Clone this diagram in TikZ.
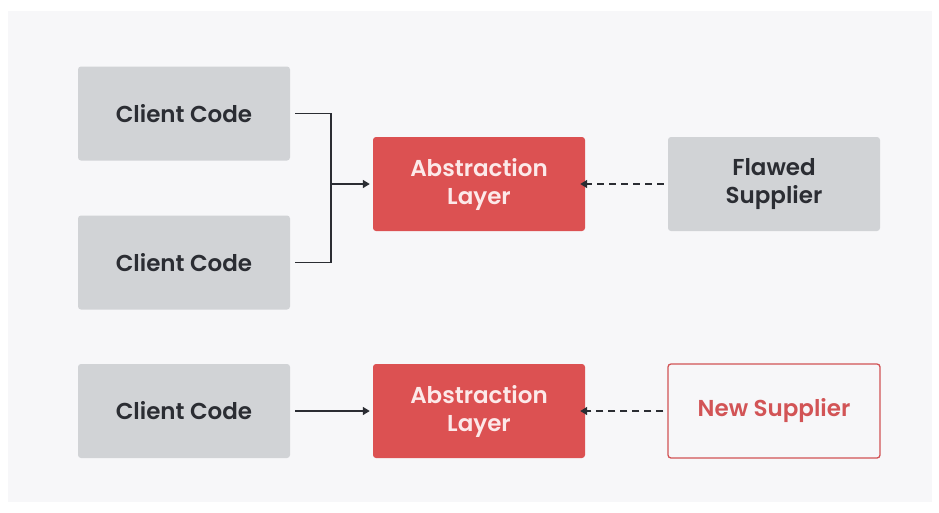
\documentclass[tikz,border=0pt]{standalone}
\usepackage{fontspec}
\setmainfont{Poppins}
\newfontfamily\labelfont{Poppins SemiBold}
\usetikzlibrary{arrows.meta}
\definecolor{panel}{HTML}{F7F7F9}
\definecolor{boxgrey}{HTML}{D1D3D6}
\definecolor{boxred}{HTML}{DC5152}
\definecolor{ink}{HTML}{2B2D33}
\definecolor{redink}{HTML}{D25456}
\definecolor{paleink}{HTML}{FCE9E9}
\tikzset{
  base/.style={minimum width=212pt, minimum height=94pt, rounded corners=3pt,
    inner sep=0pt, align=center, font=\labelfont\fontsize{23}{28}\selectfont},
  greybox/.style={base, fill=boxgrey, text=ink},
  redbox/.style={base, fill=boxred, text=paleink},
  outlinebox/.style={base, draw=redink, line width=1.3pt, fill=panel, text=redink},
  link/.style={draw=ink, line width=1.6pt, -{Triangle[length=7pt,width=8pt]}},
  dashlink/.style={link, dash pattern=on 7pt off 5pt},
}
\begin{document}
\begin{tikzpicture}[x=1pt,y=-1pt]
  \useasboundingbox (0,0) rectangle (939,512);
  \fill[white] (0,0) rectangle (939,512);
  \fill[panel] (8,11) rectangle (932,502);

  % top row: two clients sharing one abstraction over a flawed supplier
  \node[greybox] (c1) at (184,113.5) {Client Code};
  \node[greybox] (c2) at (184,262.5) {Client Code};
  \node[redbox] (a1) at (479,184) {Abstraction\\Layer};
  \node[greybox] (f1) at (774,184) {Flawed\\Supplier};

  % bottom row: the supplier swapped behind the same abstraction
  \node[greybox] (c3) at (184,411) {Client Code};
  \node[redbox] (a2) at (479,411) {Abstraction\\Layer};
  \node[outlinebox] (n2) at (774,411) {New Supplier};

  \coordinate (j) at (331,184);
  \draw[draw=ink, line width=1.6pt]
    ([xshift=5pt]c1.east) -| (j) |- ([xshift=5pt]c2.east);
  \draw[link] (j) -- ([xshift=-3pt]a1.west);
  \draw[dashlink] ([xshift=-4pt]f1.west) -- ([xshift=-5pt]a1.east);

  \draw[link] ([xshift=5pt]c3.east) -- ([xshift=-3pt]a2.west);
  \draw[dashlink] ([xshift=-4pt]n2.west) -- ([xshift=-5pt]a2.east);
\end{tikzpicture}
\end{document}
